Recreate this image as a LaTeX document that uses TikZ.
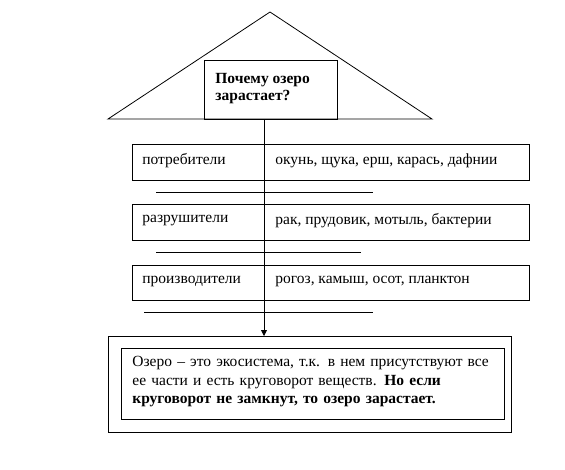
\documentclass[tikz,border=0pt]{standalone}
\usepackage{fontspec}
\setmainfont{Liberation Serif}
\usetikzlibrary{arrows.meta}
\begin{document}
\begin{tikzpicture}[x=1pt,y=-1pt,
  line width=0.8pt,
  box/.style={draw, rectangle, anchor=north west, inner sep=0pt},
  lbl/.style={anchor=west, inner sep=0pt, font=\fontsize{15.5}{18}\selectfont},
  sep/.style={line width=0.8pt}]
\useasboundingbox (0,0) rectangle (565,469);
% roof
\coordinate (apex) at (270,12);
\coordinate (bl) at (108,119);
\coordinate (br) at (432,119);
\draw (bl) -- (apex) -- (br) -- cycle;
\node[box, minimum width=133, minimum height=59] (q) at (204,60) {};
\node[anchor=north west, inner sep=0pt, align=left,
  font=\bfseries\fontsize{15.5}{17}\selectfont] (qt) at (215,73) {Почему озеро\\зарастает?};
% rows
\node[box, minimum width=397, minimum height=36] (r1) at (132,144) {};
\node[box, minimum width=397, minimum height=36] (r2) at (132,204) {};
\node[box, minimum width=397, minimum height=35] (r3) at (132,265) {};
\node[lbl] (r1a) at (142,161) {потребители};
\node[lbl] (r1b) at (275,161) {окунь, щука, ерш, карась, дафнии};
\node[lbl] (r2a) at (142,221) {разрушители};
\node[lbl] (r2b) at (275,221) {рак, прудовик, мотыль, бактерии};
\node[lbl] (r3a) at (142,281) {производители};
\node[lbl] (r3b) at (275,281) {рогоз, камыш, осот, планктон};
% separator lines
\coordinate (s1a) at (156,192); \coordinate (s1b) at (373,192);
\coordinate (s2a) at (156,252); \coordinate (s2b) at (361,252);
\coordinate (s3a) at (144,312); \coordinate (s3b) at (373,312);
\draw[sep] (s1a) -- (s1b);
\draw[sep] (s2a) -- (s2b);
\draw[sep] (s3a) -- (s3b);
% bottom boxes
\node[box, minimum width=403, minimum height=96] (out) at (108,336) {};
\node[box, minimum width=383, minimum height=71] (in) at (121,348) {};
\node[anchor=north west, inner sep=0pt, align=left, text width=370,
  font=\fontsize{15.5}{18.5}\selectfont] (txt) at (132,356)
  {Озеро – это экосистема, т.к. в нем присутствуют все\\
   ее части и есть круговорот веществ.  \textbf{Но если}\\
   \textbf{круговорот не замкнут, то озеро зарастает.}};
% vertical connector
\coordinate (top) at (264,119);
\draw[-{Triangle[length=6pt,width=6pt]}] (top) -- (264,336);
\end{tikzpicture}
\end{document}
